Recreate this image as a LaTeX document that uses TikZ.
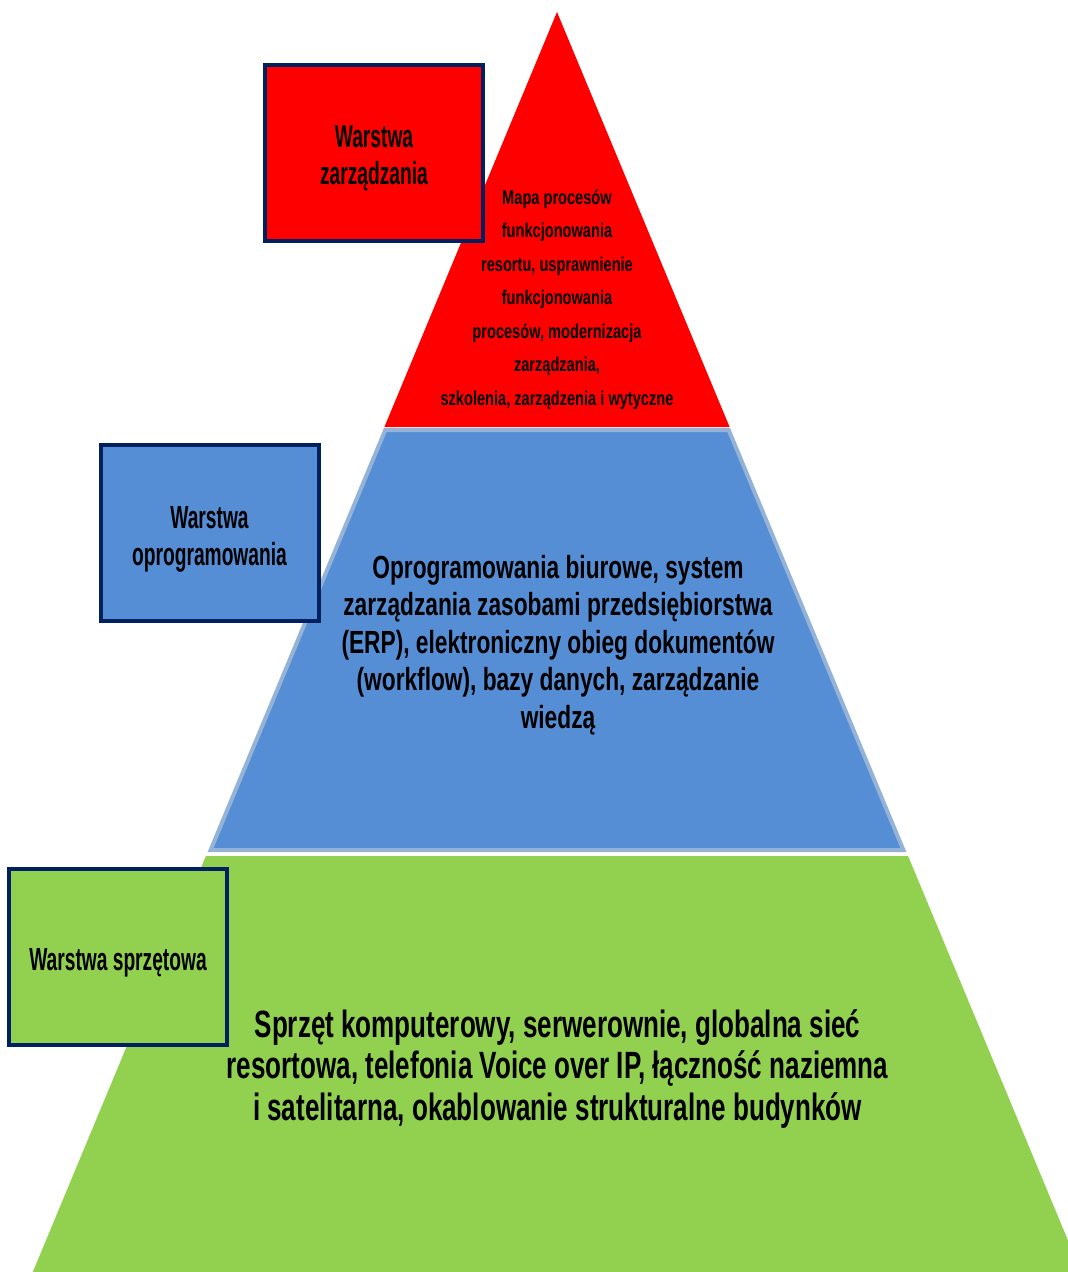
\documentclass[tikz,border=0pt]{standalone}
\usepackage{fontspec}
\setmainfont{Liberation Sans}
\newfontfamily\lblfont{Liberation Sans}[FakeStretch=0.6]
\newfontfamily\topfont{Liberation Sans}[FakeStretch=0.73]
\newfontfamily\midfont{Liberation Sans}[FakeStretch=0.71]
\newfontfamily\botfont{Liberation Sans}[FakeStretch=0.685]
\definecolor{layerred}{HTML}{FF0000}
\definecolor{layerblue}{HTML}{558ED5}
\definecolor{layerblueedge}{HTML}{95B3D7}
\definecolor{layergreen}{HTML}{92D050}
\definecolor{navyedge}{HTML}{002060}
\tikzset{
  labelbox/.style={draw=navyedge, line width=4pt, minimum width=218pt,
    minimum height=176pt, inner sep=0pt},
  labeltext/.style={align=center, inner sep=0pt, yshift=-6pt,
    font={\lblfont\bfseries\fontsize{32}{37}\selectfont}},
  ptext/.style={align=center, inner sep=0pt, anchor=base},
}
\begin{document}
\begin{tikzpicture}[x=1pt,y=-1pt]
\useasboundingbox (0,0) rectangle (1068,1272);
% pyramid layers
\fill[layergreen] (205.9,856) -- (908.1,856) -- (1068,1240.4) -- (1068,1272) -- (32.8,1272) -- cycle;
\fill[layerred] (557,12) -- (729.6,427) -- (384.4,427) -- cycle;
\filldraw[fill=layerblue, draw=layerblueedge, line width=4pt, line join=miter]
  (385.3,430) -- (728.7,430) -- (903.4,850) -- (210.6,850) -- cycle;
% texts in layers (anchor base = baseline of the last line)
\node[ptext, font={\topfont\bfseries\fontsize{20}{33.5}\selectfont}] (toptext) at (557,405)
  {Mapa procesów\\funkcjonowania\\resortu, usprawnienie\\funkcjonowania\\procesów, modernizacja\\zarządzania,\\szkolenia, zarządzenia i wytyczne};
\node[ptext, font={\midfont\bfseries\fontsize{32}{37.5}\selectfont}] (midtext) at (558,728)
  {Oprogramowania biurowe, system\\zarządzania zasobami przedsiębiorstwa\\(ERP), elektroniczny obieg dokumentów\\(workflow), bazy danych, zarządzanie\\wiedzą};
\node[ptext, font={\botfont\bfseries\fontsize{38}{41.5}\selectfont}] (bottext) at (557.5,1120)
  {Sprzęt komputerowy, serwerownie, globalna sieć\\resortowa, telefonia Voice over IP, łączność naziemna\\i satelitarna, okablowanie strukturalne budynków};
% layer labels
\node[labelbox, fill=layerred] (redlabel) at (374,152.5) {};
\node[labeltext] (redlabeltext) at (redlabel.center) {Warstwa\\zarządzania};
\node[labelbox, fill=layerblue] (bluelabel) at (209.5,533) {};
\node[labeltext] (bluelabeltext) at (bluelabel.center) {Warstwa\\oprogramowania};
\node[labelbox, fill=layergreen] (greenlabel) at (118,956.5) {};
\node[labeltext] (greenlabeltext) at (greenlabel.center) {Warstwa sprzętowa};
\end{tikzpicture}
\end{document}
